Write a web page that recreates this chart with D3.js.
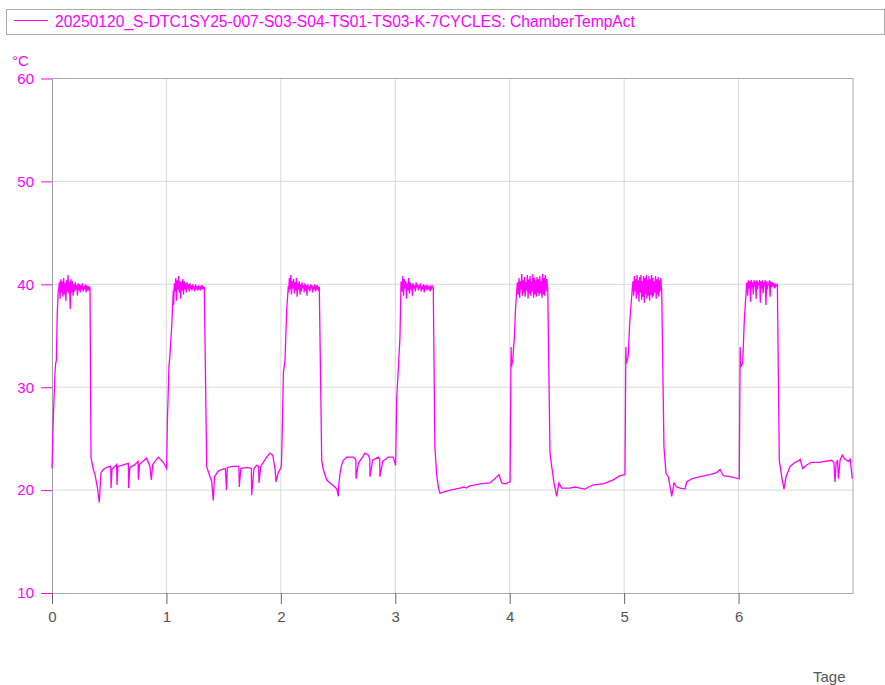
<!DOCTYPE html>
<html>
<head>
<meta charset="utf-8">
<script src="https://cdn.jsdelivr.net/npm/d3@7/dist/d3.min.js"></script>
<style>
  body { margin: 0; background: #fff; }
  svg text { font-family: "Liberation Sans", Arial, sans-serif; }
</style>
</head>
<body>
<div id="chart"></div>
<script>
const seriesName = '20250120_S-DTC1SY25-007-S03-S04-TS01-TS03-K-7CYCLES: ChamberTempAct'
const yTicks = [10, 20, 30, 40, 50, 60]
const xTicks = [0, 1, 2, 3, 4, 5, 6]

// heating ramp of each cycle: [day, °C]
const rises = [
  [[0, 22.1], [0.011, 26.8], [0.026, 31.4], [0.032, 32.3], [0.038, 32.6], [0.046, 37.2], [0.055, 39.4]],
  [[1.002, 22.1], [1.008, 26.5], [1.022, 32.0], [1.030, 33.0], [1.046, 35.9], [1.060, 39.4]],
  [[2.005, 22.4], [2.013, 26.2], [2.022, 31.4], [2.036, 32.6], [2.051, 37.5], [2.065, 39.8]],
  [[3.003, 22.4], [3.012, 28.8], [3.029, 32.3], [3.041, 34.9], [3.050, 40.2]],
  [[4.003, 20.8], [4.012, 33.9], [4.016, 32.0], [4.026, 32.6], [4.041, 34.9], [4.050, 37.5], [4.066, 40.1]],
  [[5.007, 21.5], [5.015, 33.9], [5.019, 32.3], [5.035, 33.0], [5.050, 36.5], [5.075, 40.1]],
  [[6.006, 21.1], [6.014, 33.9], [6.019, 32.0], [6.036, 32.3], [6.050, 36.5], [6.071, 40.1]]
]

// hold phase: start / end day, samples evenly spaced in between
const plateauSpans = [[0.058, 0.330], [1.063, 1.329], [2.068, 2.334], [3.053, 3.330], [4.069, 4.330], [5.078, 5.326], [6.074, 6.337]]
const plateaus = [
  [39.4, 40.2, 38.6, 40.5, 39.2, 40.3, 38.8, 40.6, 39.0, 40.1, 38.4, 40.4, 39.3, 40.9, 39.1, 40.2, 37.6, 40.5, 39.2, 40.3, 38.9, 40.0, 39.3, 40.2, 39.5, 39.9, 38.9, 40.1, 39.4, 40.0, 39.2, 39.9, 39.5, 40.1, 39.3, 39.8, 39.5, 40.0, 39.2, 39.9, 39.4, 39.8, 39.5, 39.7],
  [38.0, 40.1, 39.3, 40.6, 38.4, 40.4, 39.5, 40.8, 39.2, 40.3, 38.6, 40.2, 39.4, 40.5, 39.0, 40.3, 39.5, 40.1, 39.2, 40.2, 39.6, 40.0, 39.3, 40.1, 39.5, 39.9, 39.4, 40.0, 39.6, 39.8, 39.3, 40.0, 39.5, 39.8, 39.4, 39.9, 39.6, 39.8, 39.4, 39.9, 39.5, 39.8, 39.6, 39.7],
  [39.2, 40.6, 39.5, 40.9, 39.0, 40.3, 39.6, 40.5, 39.1, 40.2, 39.4, 40.6, 38.8, 40.1, 39.5, 40.3, 39.0, 40.0, 39.3, 40.2, 39.6, 39.9, 39.2, 40.1, 39.4, 39.9, 38.9, 40.0, 39.5, 39.8, 39.3, 40.0, 39.6, 39.9, 39.2, 39.8, 39.5, 40.0, 39.3, 39.9, 39.6, 39.8, 39.5, 39.7],
  [40.2, 39.3, 40.8, 38.9, 40.5, 39.6, 40.3, 38.6, 40.1, 39.4, 40.6, 39.1, 40.2, 39.5, 40.0, 38.9, 40.1, 39.6, 39.9, 39.3, 40.2, 39.7, 40.0, 39.4, 39.9, 39.6, 40.1, 39.3, 39.8, 39.5, 40.0, 39.2, 39.9, 39.6, 39.8, 39.4, 39.9, 39.5, 39.8, 39.3, 39.9, 39.6, 39.8, 39.6],
  [40.1, 39.0, 40.6, 38.7, 40.3, 39.5, 41.0, 38.9, 40.4, 39.2, 40.7, 38.8, 40.2, 39.4, 40.9, 38.6, 40.5, 39.1, 40.8, 38.9, 40.3, 39.3, 41.0, 38.7, 40.6, 39.0, 40.4, 38.8, 40.7, 39.2, 40.5, 38.9, 40.8, 39.1, 40.3, 38.7, 41.0, 39.0, 40.6, 38.9, 40.9, 39.3, 40.5, 39.6],
  [40.3, 38.9, 40.8, 39.3, 40.5, 38.6, 40.9, 39.0, 40.4, 38.3, 40.7, 39.2, 40.9, 38.5, 40.3, 38.8, 40.8, 38.2, 40.6, 39.1, 40.9, 38.6, 40.4, 38.9, 40.8, 38.4, 40.5, 39.0, 40.9, 38.7, 40.6, 38.9, 40.3, 39.2, 40.8, 38.6, 40.5, 39.0, 40.7, 38.8, 40.4, 39.3, 40.6, 39.5],
  [40.1, 38.9, 40.4, 39.6, 40.3, 38.3, 40.4, 39.7, 40.2, 39.0, 40.4, 39.8, 40.3, 38.6, 40.4, 39.5, 40.2, 39.9, 40.4, 38.2, 40.3, 39.6, 40.4, 39.1, 40.2, 39.8, 40.4, 38.0, 40.3, 39.5, 40.1, 39.9, 40.4, 38.8, 40.3, 39.7, 40.2, 39.9, 40.0, 39.6, 40.1, 39.8, 39.9, 40.0]
]

// cool down and room phase: [day, °C]
const lows = [
  [[0.332, 39.6], [0.341, 23.2], [0.361, 22.0], [0.376, 21.5], [0.396, 20.3], [0.413, 18.8], [0.428, 21.7], [0.448, 22.0], [0.478, 22.2], [0.513, 22.3], [0.516, 20.2], [0.524, 22.0], [0.565, 22.5], [0.568, 20.5], [0.576, 22.3], [0.667, 22.6], [0.670, 20.2], [0.680, 22.2], [0.717, 22.4], [0.752, 22.8], [0.755, 21.0], [0.765, 22.5], [0.827, 23.1], [0.856, 22.3], [0.868, 21.0], [0.880, 22.5], [0.929, 23.2], [0.973, 22.7], [1.002, 22.1]],
  [[1.331, 39.7], [1.352, 22.3], [1.360, 22.0], [1.381, 21.3], [1.396, 20.8], [1.409, 19.0], [1.420, 21.3], [1.450, 21.8], [1.480, 22.0], [1.515, 22.1], [1.525, 20.0], [1.532, 22.2], [1.580, 22.3], [1.633, 22.3], [1.637, 20.3], [1.650, 22.1], [1.705, 22.2], [1.742, 22.1], [1.745, 19.5], [1.765, 22.1], [1.788, 22.4], [1.806, 22.3], [1.809, 20.7], [1.824, 22.3], [1.876, 23.2], [1.905, 23.6], [1.929, 23.4], [1.950, 22.0], [1.957, 20.8], [1.977, 21.7], [1.998, 22.1]],
  [[2.336, 39.7], [2.357, 22.9], [2.371, 22.0], [2.400, 21.0], [2.429, 20.7], [2.472, 20.3], [2.490, 20.1], [2.502, 19.4], [2.506, 20.5], [2.517, 21.6], [2.530, 22.4], [2.546, 22.9], [2.575, 23.2], [2.633, 23.2], [2.655, 23.0], [2.657, 21.1], [2.677, 22.6], [2.736, 23.6], [2.765, 23.4], [2.777, 23.0], [2.779, 21.3], [2.802, 22.9], [2.851, 23.2], [2.864, 23.0], [2.866, 21.3], [2.890, 22.8], [2.939, 23.2], [2.983, 23.2], [3.003, 22.4]],
  [[3.332, 39.6], [3.346, 24.2], [3.361, 21.6], [3.376, 20.3], [3.391, 19.7], [3.420, 19.8], [3.478, 20.0], [3.565, 20.2], [3.600, 20.3], [3.620, 20.2], [3.650, 20.4], [3.700, 20.5], [3.740, 20.6], [3.826, 20.7], [3.870, 21.1], [3.906, 21.5], [3.930, 20.7], [3.960, 20.6], [4.003, 20.8]],
  [[4.332, 39.8], [4.352, 23.6], [4.367, 22.3], [4.387, 20.7], [4.410, 19.4], [4.430, 20.7], [4.454, 20.2], [4.527, 20.2], [4.570, 20.3], [4.614, 20.2], [4.658, 20.1], [4.690, 20.3], [4.730, 20.5], [4.818, 20.6], [4.905, 21.0], [4.963, 21.4], [5.007, 21.5]],
  [[5.328, 39.6], [5.348, 24.2], [5.366, 21.6], [5.386, 21.3], [5.416, 19.4], [5.436, 20.7], [5.460, 20.3], [5.490, 20.2], [5.532, 20.1], [5.547, 20.8], [5.590, 21.1], [5.663, 21.3], [5.750, 21.5], [5.808, 21.7], [5.838, 22.0], [5.867, 21.4], [5.925, 21.3], [6.006, 21.1]],
  [[6.339, 39.9], [6.356, 22.9], [6.377, 21.3], [6.397, 20.1], [6.415, 21.3], [6.450, 22.3], [6.494, 22.7], [6.532, 22.9], [6.538, 23.0], [6.561, 22.1], [6.590, 22.4], [6.634, 22.7], [6.706, 22.7], [6.813, 22.9], [6.833, 22.7], [6.843, 20.8], [6.852, 22.6], [6.864, 22.9], [6.873, 21.1], [6.887, 22.9], [6.907, 23.4], [6.930, 23.0], [6.960, 22.8], [6.975, 23.0], [6.994, 21.1]]
]

const MAGENTA = '#ff00ff'
const W = 885, H = 685
const pL = 52, pR = 853, pT = 78.5, pB = 593

// stitch the cycles into one series
let points = []
rises.forEach((r, k) => {
  points = points.concat(r)
  let [t0, t1] = plateauSpans[k]
  let vals = plateaus[k]
  vals.forEach((v, i) => {
    points.push([t0 + (t1 - t0) * i / (vals.length - 1), v])
  })
  points = points.concat(lows[k])
})

const svg = d3.select('#chart').append('svg')
  .attr('width', W)
  .attr('height', H)

const x = d3.scaleLinear().domain([0, 7]).range([pL, pR])
const y = d3.scaleLinear().domain([10, 60]).range([pB, pT])

// grid
svg.append('g')
  .selectAll('line')
  .data(xTicks.slice(1))
  .enter().append('line')
  .attr('x1', d => x(d)).attr('x2', d => x(d))
  .attr('y1', pT).attr('y2', pB)
  .attr('stroke', '#d9d9d9').attr('stroke-width', 1)
svg.append('g')
  .selectAll('line')
  .data(yTicks.slice(1, -1))
  .enter().append('line')
  .attr('x1', pL).attr('x2', pR)
  .attr('y1', d => y(d)).attr('y2', d => y(d))
  .attr('stroke', '#d9d9d9').attr('stroke-width', 1)

// frame top/right
svg.append('path')
  .attr('d', `M${pL},${pT}H${pR}V${pB}`)
  .attr('fill', 'none')
  .attr('stroke', '#ababab')

// y axis
let yAxis = svg.append('g')
  .attr('transform', `translate(${pL},0)`)
  .call(d3.axisLeft(y).tickValues(yTicks).tickSize(11).tickPadding(7).tickSizeOuter(0))
yAxis.select('.domain').attr('stroke', '#a0a0a0')
yAxis.selectAll('.tick line').attr('stroke', MAGENTA)
yAxis.selectAll('.tick text')
  .attr('fill', MAGENTA)
  .style('font-size', '15px')

// x axis
let xAxis = svg.append('g')
  .attr('transform', `translate(0,${pB})`)
  .call(d3.axisBottom(x).tickValues(xTicks).tickFormat(d3.format('d')).tickSize(11).tickPadding(7).tickSizeOuter(0))
xAxis.select('.domain').attr('stroke', '#ababab')
xAxis.selectAll('.tick line').attr('stroke', '#666')
xAxis.selectAll('.tick text')
  .attr('fill', '#555')
  .style('font-size', '15px')

svg.append('text')
  .attr('x', 12).attr('y', 66)
  .attr('fill', MAGENTA)
  .style('font-size', '15px')
  .text('°C')

svg.append('text')
  .attr('x', 813).attr('y', 682)
  .attr('fill', '#555')
  .style('font-size', '15px')
  .text('Tage')

// series
svg.append('path')
  .datum(points)
  .attr('fill', 'none')
  .attr('stroke', MAGENTA)
  .attr('stroke-width', 1.3)
  .attr('d', d3.line().x(d => x(d[0])).y(d => y(d[1])))

// legend
svg.append('rect')
  .attr('x', 6.5).attr('y', 9.5)
  .attr('width', 878).attr('height', 25)
  .attr('fill', 'none')
  .attr('stroke', '#ababab')
svg.append('line')
  .attr('x1', 14).attr('x2', 48)
  .attr('y1', 20.5).attr('y2', 20.5)
  .attr('stroke', MAGENTA)
svg.append('text')
  .attr('x', 55).attr('y', 27)
  .attr('fill', MAGENTA)
  .style('font-size', '15.6px')
  .text(seriesName)
</script>
</body>
</html>
